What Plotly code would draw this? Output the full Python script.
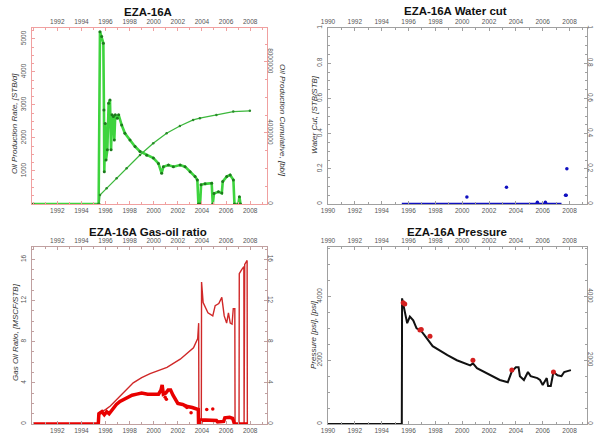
import plotly.graph_objects as go

# ---------------- data ----------------
# Panel 1: oil production rate [STB/d] and cumulative [bbl]
rate_year = [1990.0, 1995.43, 1995.54, 1995.68, 1995.82, 1995.87, 1995.90, 1995.98, 1996.04, 1996.15,
             1996.26, 1996.37, 1996.46, 1996.54, 1996.65, 1996.73, 1996.81, 1996.98, 1997.09, 1997.34,
             1997.61, 1998.03, 1998.45, 1998.86, 1999.42, 1999.97, 2000.39, 2000.66, 2000.80, 2001.22,
             2001.63, 2002.19, 2002.60, 2003.02, 2003.43, 2003.62, 2003.71, 2003.85, 2003.93, 2004.26,
             2004.81, 2004.90, 2005.00, 2005.37, 2005.65, 2005.73, 2006.06, 2006.34, 2006.61, 2006.70,
             2007.03, 2007.11, 2007.20]
rate_val = [0, 0, 5220, 5070, 4870, 2850, 980, 2440, 1330, 1640,
            3050, 3150, 1640, 2700, 2650, 1940, 2700, 2600, 2700, 2390,
            2140, 1940, 1740, 1590, 1480, 1390, 1230, 930, 1130, 1180,
            1130, 1180, 1130, 980, 830, 730, 0, 0, 580, 610,
            630, 0, 320, 370, 330, 680, 830, 880, 730, 0,
            0, 220, 0]

cum_year = [1995.48, 1995.54, 1996.09, 1996.92, 1997.75, 1998.86, 1999.96, 2001.07, 2002.17,
            2003.27, 2003.83, 2005.20, 2006.60, 2007.98]
cum_val = [0, 0.51e6, 0.88e6, 1.45e6, 2.01e6, 2.76e6, 3.42e6, 3.98e6, 4.39e6,
           4.73e6, 4.83e6, 5.01e6, 5.20e6, 5.24e6]

# Panel 2: water cut [STB/STB]
wc_line_year = [1995.5, 2007.4]
wc_line_val = [0.0, 0.0]
wc_pt_year = [2000.35, 2003.3, 2005.6, 2006.2, 2007.7, 2007.75, 2007.8]
wc_pt_val = [0.04, 0.095, 0.01, 0.01, 0.05, 0.05, 0.20]

# Panel 3: gas-oil ratio [MSCF/STB]
gor_year = [1990.0, 1995.40, 1995.45, 1995.7, 1995.9, 1996.1, 1996.3, 1996.6, 1996.9, 1997.2,
            1997.5, 1997.8, 1998.2, 1998.6, 1999.0, 1999.5, 2000.0, 2000.4, 2000.6, 2000.7,
            2000.8, 2001.0, 2001.2, 2001.4, 2001.6, 2001.8, 2002.0, 2002.4, 2002.8, 2003.2,
            2003.5, 2003.7, 2003.72, 2003.9, 2003.95, 2004.5, 2005.2, 2005.3, 2005.8, 2005.9,
            2006.3, 2006.55, 2006.6, 2006.7, 2007.8]
gor_val = [0, 0, 1.0, 1.2, 0.9, 1.2, 1.0, 1.5, 1.9, 2.2,
           2.4, 2.6, 2.8, 2.9, 3.0, 2.9, 2.9, 2.9, 3.3, 3.8,
           2.9, 3.0, 3.3, 3.3, 2.8, 2.3, 2.0, 1.9, 1.7, 1.6,
           1.5, 1.4, 0, 0, 0.4, 0.4, 0.35, 0.2, 0.25, 0.6,
           0.65, 0.55, 0.2, 0, 0]

gor_cum_year = [1990.0, 1995.45, 1995.5, 1996.0, 1996.4, 1997.2, 1998.3, 1999.0, 1999.7, 2001.1,
                2002.2, 2003.3, 2003.65, 2003.73, 2003.75, 2003.95, 2003.97, 2004.1, 2004.5, 2004.9,
                2005.1, 2005.4, 2005.65, 2005.85, 2006.05, 2006.2, 2006.35, 2006.5, 2006.6, 2006.73,
                2006.75, 2007.08, 2007.1, 2007.3, 2007.48, 2007.5, 2007.55, 2007.75, 2007.77]
gor_cum_val = [0, 0, 1.1, 1.4, 1.75, 2.7, 4.0, 4.5, 4.9, 5.5,
               6.3, 7.4, 8.3, 9.8, 0, 0, 13.8, 11.8, 10.8, 10.5,
               11.5, 11.7, 12.3, 10.5, 9.8, 10.8, 9.8, 9.7, 11.2, 11.2,
               0, 0, 14.6, 15.0, 15.3, 0, 15.5, 15.9, 0]

gor_pt_year = [2000.95, 2001.05, 2002.6, 2002.75, 2003.1, 2004.4, 2004.9]
gor_pt_val = [2.6, 2.4, 1.75, 1.6, 1.1, 1.4, 1.45]

# Panel 4: pressure [psi]
p_year = [1990.0, 1995.5, 1995.52, 1995.75, 1995.9, 1996.1, 1996.35, 1996.6, 1996.9, 1997.2,
          1997.8, 1998.9, 1999.6, 2000.6, 2000.8, 2001.1, 2001.8, 2002.8, 2003.4, 2003.7,
          2004.0, 2004.2, 2004.3, 2004.6, 2004.9, 2005.1, 2005.6, 2005.8, 2006.0, 2006.3,
          2006.4, 2006.6, 2006.8, 2007.1, 2007.4, 2007.6, 2008.1]
p_val = [0, 0, 3940, 3470, 3160, 3370, 3250, 3000, 2940, 2780,
         2440, 2160, 2000, 1840, 1900, 1750, 1590, 1380, 1310, 1650,
         1780, 1780, 1500, 1380, 1630, 1500, 1440, 1380, 1220, 1440,
         1190, 1190, 1630, 1530, 1500, 1630, 1690]
p_meas_year = [1995.6, 1995.72, 1996.85, 1996.95, 1997.6, 2000.8, 2003.7, 2006.8]
p_meas_val = [3800, 3760, 2950, 2960, 2750, 2000, 1690, 1630]

left_years = [1992, 1994, 1996, 1998, 2000, 2002, 2004, 2006, 2008]
right_years = [1990, 1992, 1994, 1996, 1998, 2000, 2002, 2004, 2006, 2008]

# ---------------- layout helpers ----------------
W, H = 603, 435
FONT = "Arial, Liberation Sans, sans-serif"
TICKF = dict(family=FONT, size=6.5, color="#555")


def px_dom(a, b, total):
    return [a / total, b / total]


def py_dom(top, bottom):
    return [1 - bottom / H, 1 - top / H]


panels = {
    1: dict(x=px_dom(32, 267, W), y=py_dom(28, 204), xr=[1989.9, 2009.4], col="#f0a0a0", years=left_years),
    2: dict(x=px_dom(328, 587, W), y=py_dom(28, 204), xr=[1990.0, 2009.3], col="#a0a0a0", years=right_years),
    3: dict(x=px_dom(32, 267, W), y=py_dom(247, 424), xr=[1989.9, 2009.4], col="#c0a0a0", years=left_years),
    4: dict(x=px_dom(328, 587, W), y=py_dom(247, 424), xr=[1990.0, 2009.3], col="#a0a0a0", years=right_years),
}

yspec = {
    1: dict(left=dict(range=[0, 5330], tickvals=[1000, 2000, 3000, 4000, 5000], minor=250),
            right=dict(range=[0, 9.9e6], tickvals=[0, 4e6, 8e6], ticktext=["0", "4000000", "8000000"], minor=1e6)),
    2: dict(left=dict(range=[0, 1.0], tickvals=[0, 0.2, 0.4, 0.6, 0.8, 1.0], ticktext=["0", "0.2", "0.4", "0.6", "0.8", "1"], minor=0.05),
            right=dict(range=[0, 1.0], tickvals=[0, 0.2, 0.4, 0.6, 0.8, 1.0], ticktext=["0", "0.2", "0.4", "0.6", "0.8", "1"], minor=0.05)),
    3: dict(left=dict(range=[0, 17.2], tickvals=[0, 4, 8, 12, 16], minor=1),
            right=dict(range=[0, 17.2], tickvals=[0, 4, 8, 12, 16], minor=1)),
    4: dict(left=dict(range=[0, 5550], tickvals=[0, 2000, 4000], minor=500),
            right=dict(range=[0, 5550], tickvals=[0, 2000, 4000], minor=500)),
}

fig = go.Figure()
layout = {}

for k, p in panels.items():
    xb = 2 * k - 1   # bottom x axis index
    xt = 2 * k       # top x axis index
    yl = 2 * k - 1   # left y
    yr = 2 * k       # right y
    xbn = "xaxis" if xb == 1 else f"xaxis{xb}"
    ybn = "yaxis" if yl == 1 else f"yaxis{yl}"
    xref_b = "x" if xb == 1 else f"x{xb}"
    yref_l = "y" if yl == 1 else f"y{yl}"
    col = p["col"]
    common_x = dict(range=p["xr"], domain=p["x"], showgrid=False, zeroline=False,
                    showline=True, linecolor=col, linewidth=1, automargin=False,
                    ticks="inside", ticklen=3, tickcolor=col,
                    tickvals=p["years"], ticktext=[str(v) for v in p["years"]],
                    tickfont=TICKF,
                    minor=dict(ticks="inside", ticklen=2, dtick=1, tickcolor=col))
    layout[xbn] = dict(common_x, anchor=yref_l, side="bottom")
    layout[f"xaxis{xt}"] = dict(common_x, anchor=yref_l, side="top", overlaying=xref_b)

    ls = yspec[k]["left"]
    rs = yspec[k]["right"]
    common_y = dict(domain=p["y"], showgrid=False, zeroline=False, showline=True, automargin=False,
                    linecolor=col, linewidth=1, ticks="inside", ticklen=3, tickcolor=col,
                    tickfont=TICKF)
    layout[ybn] = dict(common_y, range=ls["range"], tickvals=ls["tickvals"],
                       ticktext=ls.get("ticktext", [str(v) for v in ls["tickvals"]]),
                       anchor=xref_b, side="left", tickangle=-90, ticklabelstandoff=2,
                       minor=dict(ticks="inside", ticklen=2, dtick=ls["minor"], tickcolor=col))
    layout[f"yaxis{yr}"] = dict(common_y, range=rs["range"], tickvals=rs["tickvals"],
                                ticktext=rs.get("ticktext", [str(v) for v in rs["tickvals"]]),
                                anchor=xref_b, side="right", overlaying=yref_l, tickangle=90,
                                ticklabelstandoff=-3,
                                minor=dict(ticks="inside", ticklen=2, dtick=rs["minor"], tickcolor=col))
    # dummy traces so the top and right axes are drawn
    fig.add_trace(go.Scatter(x=[None], y=[None], xaxis=f"x{xt}", yaxis=yref_l,
                             showlegend=False, hoverinfo="skip"))
    if k != 1:
        fig.add_trace(go.Scatter(x=[None], y=[None], xaxis=xref_b, yaxis=f"y{yr}",
                                 showlegend=False, hoverinfo="skip"))

# ---------------- traces ----------------
# Panel 1
fig.add_trace(go.Scatter(x=cum_year, y=cum_val, xaxis="x", yaxis="y2", mode="lines+markers",
                         line=dict(color="#3cb83c", width=1.3), marker=dict(size=2.5, color="#2a8a2a"),
                         showlegend=False))
fig.add_trace(go.Scatter(x=rate_year, y=rate_val, xaxis="x", yaxis="y", mode="lines+markers",
                         line=dict(color="#3ed43e", width=2.6), marker=dict(size=3, color="#1d7a1d"),
                         showlegend=False))
# Panel 2
fig.add_trace(go.Scatter(x=wc_line_year, y=wc_line_val, xaxis="x3", yaxis="y3", mode="lines",
                         line=dict(color="#1010c0", width=2.5), showlegend=False))
fig.add_trace(go.Scatter(x=wc_pt_year, y=wc_pt_val, xaxis="x3", yaxis="y3", mode="markers",
                         marker=dict(size=3.5, color="#1010c0"), showlegend=False))
# Panel 3
fig.add_trace(go.Scatter(x=gor_cum_year, y=gor_cum_val, xaxis="x5", yaxis="y5", mode="lines",
                         line=dict(color="#d02828", width=1.4), showlegend=False))
fig.add_trace(go.Scatter(x=gor_year, y=gor_val, xaxis="x5", yaxis="y5", mode="lines",
                         line=dict(color="#e80000", width=3.5), showlegend=False))
fig.add_trace(go.Scatter(x=gor_pt_year, y=gor_pt_val, xaxis="x5", yaxis="y5", mode="markers",
                         marker=dict(size=3.5, color="#e80000"), showlegend=False))
# Panel 4
fig.add_trace(go.Scatter(x=p_year, y=p_val, xaxis="x7", yaxis="y7", mode="lines",
                         line=dict(color="#111111", width=2), showlegend=False))
fig.add_trace(go.Scatter(x=p_meas_year, y=p_meas_val, xaxis="x7", yaxis="y7", mode="markers",
                         marker=dict(size=5, color="#d42020"), showlegend=False))

# ---------------- titles ----------------
ann = []
TF = dict(family=FONT, size=11.5, color="#111")


def title(text, x, y):
    ann.append(dict(text=f"<b>{text}</b>", x=x / W, y=1 - y / H, xref="paper", yref="paper",
                    xanchor="center", yanchor="middle", showarrow=False, font=TF))


def ytitle(text, x, y, angle):
    ann.append(dict(text=f"<i>{text}</i>", x=x / W, y=1 - y / H, xref="paper", yref="paper",
                    xanchor="center", yanchor="middle", showarrow=False, textangle=angle,
                    font=dict(family=FONT, size=8, color="#333")))


title("EZA-16A", 148, 12)
title("EZA-16A Water cut", 455, 11.5)
title("EZA-16A Gas-oil ratio", 148, 232)
title("EZA-16A Pressure", 457, 232)
ytitle("Oil Production Rate, [STB/d]", 14, 124, -90)
ytitle("Oil Production Cumulative, [bbl]", 283, 120, 90)
ytitle("Water Cut, [STB/STB]", 314, 115, -90)
ytitle("Gas Oil Ratio, [MSCF/STB]", 15, 332, -90)
ytitle("Pressure [psi], [psi]", 313, 335, -90)

fig.update_layout(width=W, height=H, margin=dict(l=0, r=0, t=0, b=0),
                  paper_bgcolor="white", plot_bgcolor="white", annotations=ann,
                  showlegend=False, font=dict(family=FONT), **layout)

fig.write_html("out.html", config={"displayModeBar": False},
               post_script="document.body.style.margin='0px';")
